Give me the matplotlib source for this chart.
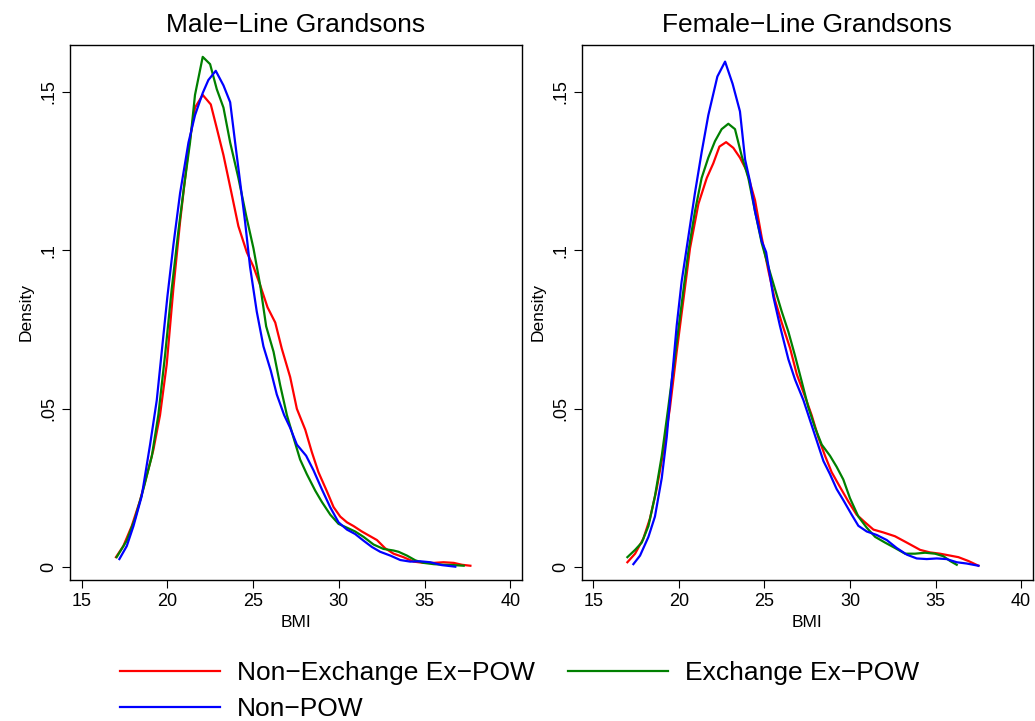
import matplotlib
matplotlib.use("Agg")
import matplotlib.pyplot as plt

plt.rcParams['font.family'] = ['Liberation Sans', 'DejaVu Sans']

# Male-line grandsons: BMI / density
male_red_x = [17.0, 17.43, 17.92, 18.4, 18.7, 19.18, 19.57, 19.96, 20.35, 20.74, 21.23, 21.61, 22.06, 22.53,
              22.88, 23.27, 23.7, 24.14, 24.63, 25.02, 25.41, 25.84, 26.29, 26.67, 27.16, 27.55, 28.04, 28.42,
              28.81, 29.3, 29.69, 30.08, 30.47, 30.86, 31.34, 31.73, 32.22, 32.7, 33.19, 33.77, 34.36, 34.94,
              35.53, 36.1, 36.7, 37.18, 37.67]
male_red_y = [0.0032, 0.0067, 0.013, 0.021, 0.027, 0.037, 0.048, 0.064, 0.088, 0.109, 0.132, 0.145, 0.149, 0.146,
              0.1385, 0.13, 0.119, 0.1076, 0.0994, 0.0948, 0.089, 0.082, 0.0772, 0.069, 0.060, 0.050, 0.0434, 0.0364,
              0.030, 0.024, 0.019, 0.016, 0.0142, 0.013, 0.0113, 0.0101, 0.0086, 0.006, 0.0043, 0.0032, 0.0018, 0.0014,
              0.0014, 0.0016, 0.0014, 0.0008, 0.0005]

male_green_x = [17.04, 17.63, 18.11, 18.6, 19.09, 19.47, 19.86, 20.25, 20.64, 20.97, 21.32, 21.61, 22.06, 22.49,
                22.88, 23.27, 23.66, 24.14, 24.59, 25.02, 25.41, 25.76, 26.19, 26.58, 26.97, 27.35, 27.74, 28.13,
                28.62, 29.0, 29.5, 29.98, 30.47, 30.95, 31.44, 32.02, 32.6, 33.19, 33.48, 33.97, 34.46, 34.94,
                35.53, 36.1, 36.7, 37.28]
male_green_y = [0.0032, 0.0084, 0.0154, 0.0247, 0.035, 0.048, 0.0667, 0.0877, 0.106, 0.120, 0.134, 0.149, 0.161, 0.1587,
                0.1508, 0.145, 0.134, 0.1228, 0.111, 0.1006, 0.089, 0.076, 0.068, 0.0574, 0.048, 0.041, 0.034, 0.0294,
                0.0242, 0.0207, 0.0166, 0.0137, 0.0125, 0.0113, 0.0096, 0.0072, 0.0058, 0.0053, 0.0049, 0.0037, 0.0022, 0.0014,
                0.001, 0.0008, 0.0007, 0.0005]

male_blue_x = [17.2, 17.63, 18.02, 18.5, 18.99, 19.38, 19.67, 20.0, 20.35, 20.74, 21.23, 21.61, 22.06, 22.39,
               22.82, 23.27, 23.66, 23.95, 24.24, 24.53, 24.82, 25.21, 25.6, 26.03, 26.38, 26.81, 27.16, 27.55,
               28.09, 28.52, 29.0, 29.5, 29.98, 30.47, 30.95, 31.44, 31.93, 32.41, 33.0, 33.58, 34.16, 34.75,
               35.33, 36.0, 36.79]
male_blue_y = [0.0026, 0.0067, 0.013, 0.0224, 0.0387, 0.0527, 0.068, 0.0854, 0.1017, 0.118, 0.134, 0.1426, 0.1496, 0.1537,
               0.1566, 0.152, 0.1467, 0.134, 0.1216, 0.109, 0.0948, 0.0807, 0.0697, 0.062, 0.0545, 0.048, 0.044, 0.0387,
               0.0352, 0.0306, 0.0247, 0.0189, 0.0142, 0.0119, 0.0105, 0.0084, 0.0064, 0.0049, 0.0037, 0.0023, 0.0018, 0.0019,
               0.0016, 0.0007, 0.0002]

# Female-line grandsons
fem_red_x = [16.99, 17.44, 17.92, 18.31, 18.7, 19.09, 19.48, 19.87, 20.26, 20.65, 21.14, 21.63, 22.01, 22.37,
             22.76, 23.18, 23.57, 23.96, 24.45, 24.84, 25.23, 25.62, 26.01, 26.5, 26.89, 27.37, 27.76, 28.15,
             28.54, 28.93, 29.42, 29.91, 30.39, 30.88, 31.37, 31.95, 32.63, 33.32, 34.1, 34.68, 35.26, 35.85,
             36.34, 36.92, 37.51]
fem_red_y = [0.0016, 0.0043, 0.009, 0.0154, 0.0247, 0.0364, 0.0504, 0.0679, 0.0842, 0.1006, 0.1146, 0.1228, 0.1274, 0.1327,
             0.1341, 0.1323, 0.1292, 0.1251, 0.1158, 0.1041, 0.0936, 0.0842, 0.0772, 0.0691, 0.0609, 0.0539, 0.048, 0.041,
             0.0352, 0.030, 0.0253, 0.0207, 0.0166, 0.0142, 0.0119, 0.011, 0.0098, 0.0078, 0.0055, 0.0047, 0.0043, 0.0037,
             0.0032, 0.002, 0.0005]

fem_green_x = [16.99, 17.44, 17.83, 18.22, 18.6, 19.0, 19.38, 19.77, 20.16, 20.55, 20.94, 21.33, 21.72, 22.11,
               22.5, 22.89, 23.28, 23.67, 24.06, 24.45, 24.84, 25.23, 25.62, 26.01, 26.4, 26.79, 27.18, 27.57,
               27.96, 28.35, 28.83, 29.22, 29.61, 30.0, 30.49, 30.98, 31.47, 32.05, 32.63, 33.22, 33.8, 34.39,
               34.97, 35.46, 35.85, 36.24]
fem_green_y = [0.0032, 0.0055, 0.0078, 0.013, 0.0224, 0.0352, 0.0504, 0.0667, 0.083, 0.0994, 0.1123, 0.1228, 0.1292, 0.1344,
               0.1382, 0.1399, 0.1382, 0.1298, 0.1228, 0.1123, 0.1023, 0.0948, 0.0877, 0.0807, 0.0743, 0.0667, 0.0586, 0.0504,
               0.044, 0.0387, 0.0352, 0.0317, 0.0277, 0.0218, 0.016, 0.0125, 0.0096, 0.0078, 0.0061, 0.0043, 0.0043, 0.0046,
               0.0043, 0.0035, 0.002, 0.0008]

fem_blue_x = [17.34, 17.73, 18.22, 18.6, 19.0, 19.29, 19.58, 19.87, 20.16, 20.55, 20.94, 21.33, 21.72, 22.25,
              22.7, 23.14, 23.57, 23.87, 24.16, 24.45, 24.84, 25.1, 25.52, 25.91, 26.4, 26.79, 27.28, 27.67,
              28.06, 28.45, 28.83, 29.22, 29.61, 30.1, 30.49, 30.98, 31.56, 32.15, 32.73, 33.32, 33.9, 34.49,
              35.07, 35.65, 36.24, 36.82, 37.51]
fem_blue_y = [0.001, 0.0037, 0.0096, 0.016, 0.0282, 0.0411, 0.0586, 0.0761, 0.0901, 0.1041, 0.1181, 0.1309, 0.1426, 0.1548,
              0.1595, 0.1525, 0.1438, 0.1286, 0.1216, 0.1123, 0.1029, 0.0994, 0.0854, 0.0761, 0.0656, 0.0592, 0.0527, 0.0463,
              0.0399, 0.0335, 0.0294, 0.0247, 0.0212, 0.0166, 0.0131, 0.0113, 0.0102, 0.0086, 0.0061, 0.004, 0.0028, 0.0026,
              0.0028, 0.0026, 0.0016, 0.0012, 0.0005]

titles = ['Male\u2212Line Grandsons', 'Female\u2212Line Grandsons']
labels = ['Non\u2212Exchange Ex\u2212POW', 'Exchange Ex\u2212POW', 'Non\u2212POW']
colors = ['#ff0000', '#008000', '#0000ff']
yticks = [0, 0.05, 0.1, 0.15]
ytick_labels = ['0', '.05', '.1', '.15']
xticks = [15, 20, 25, 30, 35, 40]

panels = [
    [(male_red_x, male_red_y), (male_green_x, male_green_y), (male_blue_x, male_blue_y)],
    [(fem_red_x, fem_red_y), (fem_green_x, fem_green_y), (fem_blue_x, fem_blue_y)],
]

fig = plt.figure(figsize=(10.35, 7.21), dpi=100)
ax_left = fig.add_axes([70/1035, 1-580/721, 452/1035, (580-44.5)/721])
ax_right = fig.add_axes([581.7/1035, 1-580/721, 451/1035, (580-44.5)/721])

handles = []
for ax, title, series in zip([ax_left, ax_right], titles, panels):
    for (x, y), c, lab in zip(series, colors, labels):
        h, = ax.plot(x, y, color=c, lw=1.6, label=lab)
        if ax is ax_left:
            handles.append(h)
    ax.set_xlim(14.32, 40.68)
    ax.set_ylim(-0.004, 0.1649)
    ax.set_xticks(xticks)
    ax.set_yticks(yticks)
    ax.set_yticklabels(ytick_labels, rotation=90, va='center')
    ax.tick_params(axis='both', direction='out', length=6, width=0.8, labelsize=13, colors='black', pad=3)
    for s in ax.spines.values():
        s.set_linewidth(1.0)
        s.set_color('black')
    ax.set_title(title, fontsize=19, pad=9)
    ax.set_xlabel('BMI', fontsize=12.5, labelpad=4)
    ax.set_ylabel('Density', fontsize=12.5, labelpad=5)

# legend fills column by column: red, blue in the first column, green in the second
leg_order = [handles[0], handles[2], handles[1]]
fig.legend(handles=leg_order, loc='upper left', bbox_to_anchor=(120/1035, 1-661/721),
           ncol=2, frameon=False, fontsize=19, handlelength=3.8, handletextpad=0.64,
           columnspacing=1.25, labelspacing=0.47, borderpad=0, borderaxespad=0)

fig.savefig('out.png', dpi=100)
